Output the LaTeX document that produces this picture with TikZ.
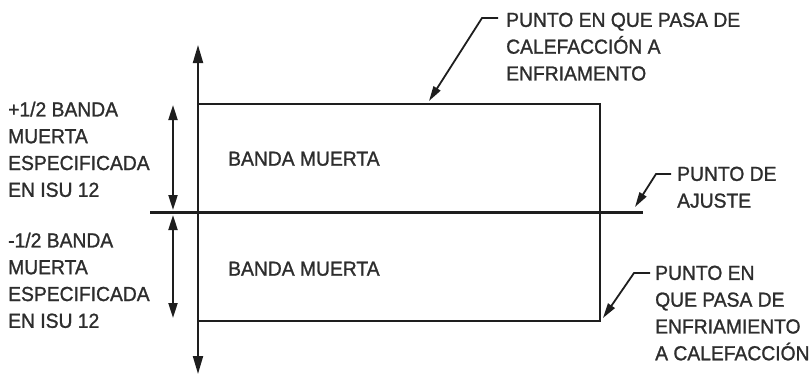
\documentclass[tikz,border=0pt]{standalone}
\usepackage{fontspec}
\setmainfont{Liberation Sans}
\newfontfamily\labfont[FakeStretch=0.95,FakeBold=1.2]{Liberation Sans}
\usetikzlibrary{arrows.meta}
\definecolor{ink}{RGB}{30,30,30}
\definecolor{txt}{RGB}{45,45,45}
\tikzset{
  lbl/.style={anchor=north west, inner sep=0pt, align=left, text=txt,
    font=\labfont\fontsize{20.3}{26.8}\selectfont},
  dbl/.style={{Triangle[length=15pt,width=9pt]}-{Triangle[length=15pt,width=9pt]}, line width=2pt, draw=ink},
  leader/.style={-{Triangle[length=15pt,width=8pt]}, line width=1.8pt, draw=ink},
}
\begin{document}
\begin{tikzpicture}[x=1pt,y=-1pt]
\useasboundingbox (0,0) rectangle (809,375);
% coordinates
\coordinate (axT) at (198,45);
\coordinate (axB) at (198,374);
\coordinate (rTL) at (198,104);
\coordinate (rBR) at (600,321);
\coordinate (spL) at (150,212);
\coordinate (spR) at (643,212);
\coordinate (u1) at (173,105);
\coordinate (u2) at (173,210);
\coordinate (d1) at (173,215);
\coordinate (d2) at (173,318);
% rectangle
\draw[line width=1.3pt, draw=ink] (rTL) rectangle (rBR);
% vertical axis
\draw[line width=2pt, draw=ink, {Triangle[length=18pt,width=10pt]}-{Triangle[length=18pt,width=10pt]}] (axT) -- (axB);
% set point line
\draw[line width=3pt, draw=ink] (spL) -- (spR);
% half bands
\draw[dbl] (u1) -- (u2);
\draw[dbl] (d1) -- (d2);
% labels
\node[lbl] (tl) at (8,101.5) {+1/2 BANDA\\MUERTA\\ESPECIFICADA\\EN ISU 12};
\node[lbl] (bl) at (8,232.5) {-1/2 BANDA\\MUERTA\\ESPECIFICADA\\EN ISU 12};
\node[lbl] (bm1) at (228,151.5) {BANDA MUERTA};
\node[lbl] (bm2) at (228,261.5) {BANDA MUERTA};
\node[lbl] (tr) at (506,12.5) {PUNTO EN QUE PASA DE\\CALEFACCIÓN A\\ENFRIAMENTO};
\node[lbl] (sp) at (677,166.5) {PUNTO DE\\AJUSTE};
\node[lbl] (br) at (655,265.5) {PUNTO EN\\QUE PASA DE\\ENFRIAMIENTO\\A CALEFACCIÓN};
% leaders
\coordinate (l1a) at (498,18);
\coordinate (l1b) at (482,18);
\coordinate (l1t) at (429,101);
\coordinate (l2a) at (671,174);
\coordinate (l2b) at (656,174);
\coordinate (l2t) at (635,207);
\coordinate (l3a) at (650,273);
\coordinate (l3b) at (634,273);
\coordinate (l3t) at (603,318);
\draw[leader] (l1a) -- (l1b) -- (l1t);
\draw[leader] (l2a) -- (l2b) -- (l2t);
\draw[leader] (l3a) -- (l3b) -- (l3t);
\end{tikzpicture}
\end{document}
